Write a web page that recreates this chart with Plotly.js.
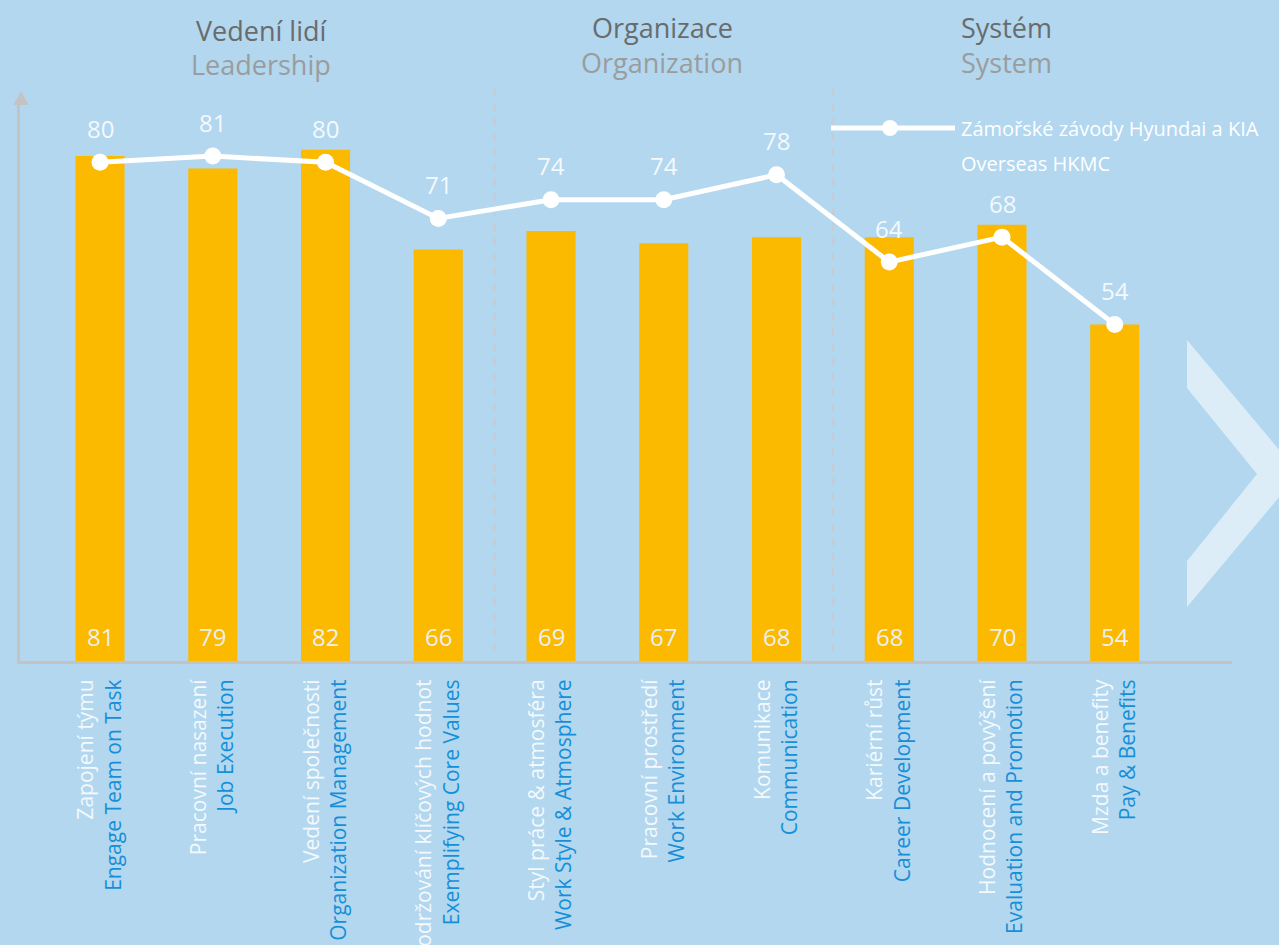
<!DOCTYPE html>
<html>
<head>
<meta charset="utf-8">
<script src="https://cdn.plot.ly/plotly-3.0.1.min.js"></script>
<style>
  html, body { margin: 0; padding: 0; background: #b2d7ef; }
  #chart { width: 1279px; height: 945px; }
</style>
</head>
<body>
<div id="chart"></div>
<script>
// ---- data ----
const czechLabels = ["Zapojení týmu", "Pracovní nasazení", "Vedení společnosti", "Dodržování klíčových hodnot",
  "Styl práce &amp; atmosféra", "Pracovní prostředí", "Komunikace", "Kariérní růst",
  "Hodnocení a povýšení", "Mzda a benefity"];
const englishLabels = ["Engage Team on Task", "Job Execution", "Organization Management", "Exemplifying Core Values",
  "Work Style &amp; Atmosphere", "Work Environment", "Communication", "Career Development",
  "Evaluation and Promotion", "Pay &amp; Benefits"];
const plantValues = [81, 79, 82, 66, 69, 67, 68, 68, 70, 54];
const overseasValues = [80, 81, 80, 71, 74, 74, 78, 64, 68, 54];
const groupTitlesCz = ["Vedení lidí", "Organizace", "Systém"];
const groupTitlesEn = ["Leadership", "Organization", "System"];
const legendLines = ["Zámořské závody Hyundai a KIA", "Overseas HKMC"];

// ---- layout geometry (pixels) ----
const W = 1279, H = 945;
const L = 20, R = 1232, T = 100, B = 661;
const PW = R - L, PH = B - T;
const px = p => (p - L) / PW;
const py = p => (B - p) / PH;

const WHITE_TXT = "#f4f9fd";
const BLUE_TXT = "#168fd8";
const FONT = "Open Sans, Noto Sans, sans-serif";

const cats = czechLabels.map((c, i) =>
  `<span style="color:${WHITE_TXT}">${c}</span><br><span style="color:${BLUE_TXT}">${englishLabels[i]}</span>`);

const bars = {
  type: "bar",
  x: cats,
  y: plantValues,
  width: 0.435,
  marker: { color: "#fbb900", line: { width: 0 } },
  hoverinfo: "skip",
  showlegend: false
};
const line = {
  type: "scatter",
  mode: "lines+markers",
  x: cats,
  y: overseasValues,
  line: { color: "#ffffff", width: 5 },
  marker: { color: "#ffffff", size: 17 },
  hoverinfo: "skip",
  showlegend: false
};

const annotations = [];
cats.forEach((c, i) => {
  annotations.push({
    x: c, y: overseasValues[i], xref: "x", yref: "y",
    text: String(overseasValues[i]), showarrow: false,
    yanchor: "middle", yshift: 34,
    font: { family: FONT, size: 24, color: WHITE_TXT }
  });
  annotations.push({
    x: c, y: 0, xref: "x", yref: "y",
    text: String(plantValues[i]), showarrow: false,
    yanchor: "middle", yshift: 25,
    font: { family: FONT, size: 24, color: "#eef0ee" }
  });
});

const groupCenters = [261, 662, 1007];
const czY = [30, 27, 27];
const enY = [65, 62, 62];
groupTitlesCz.forEach((t, i) => {
  annotations.push({
    x: px(groupCenters[i]), y: py(czY[i]), xref: "paper", yref: "paper",
    text: t, showarrow: false, xanchor: "center", yanchor: "middle", borderpad: 0,
    font: { family: FONT, size: 27, color: "#696b6d" }
  });
  annotations.push({
    x: px(groupCenters[i]), y: py(enY[i]), xref: "paper", yref: "paper",
    text: groupTitlesEn[i], showarrow: false, xanchor: "center", yanchor: "middle", borderpad: 0,
    font: { family: FONT, size: 27, color: "#9a9c9e" }
  });
});

legendLines.forEach((t, i) => {
  annotations.push({
    x: px(959), y: py(128 + i * 35), xref: "paper", yref: "paper",
    text: t, showarrow: false, xanchor: "left", yanchor: "middle",
    font: { family: FONT, size: 20, color: "#ffffff" }
  });
});

const chevron = [[1187, 340], [1299, 473.5], [1187, 607], [1187, 561], [1257, 474], [1187, 388]];
const chevPath = "M " + chevron.map(p => `${px(p[0])},${py(p[1])}`).join(" L ") + " Z";

const shapes = [
  { type: "path", xref: "paper", yref: "paper", path: chevPath,
    fillcolor: "rgba(255,255,255,0.55)", line: { width: 0 }, layer: "below" },
  // separators
  { type: "line", xref: "x", yref: "paper", x0: 3.5, x1: 3.5, y0: py(651), y1: py(89),
    line: { color: "#c6ccd2", width: 2, dash: "8px,7px" }, layer: "below" },
  { type: "line", xref: "x", yref: "paper", x0: 6.5, x1: 6.5, y0: py(651), y1: py(89),
    line: { color: "#c6ccd2", width: 2, dash: "8px,7px" }, layer: "below" },
  // y axis arrow head
  { type: "path", xref: "paper", yref: "paper",
    path: `M ${px(21)},${py(91)} L ${px(13.5)},${py(105)} L ${px(28.5)},${py(105)} Z`,
    fillcolor: "#c3c3c3", line: { width: 0 } },
  // legend symbol
  { type: "line", xref: "paper", yref: "paper", x0: px(831), x1: px(955), y0: py(128), y1: py(128),
    line: { color: "#ffffff", width: 5 } },
  { type: "circle", xref: "paper", yref: "paper", x0: px(882), x1: px(898), y0: py(136), y1: py(120),
    fillcolor: "#ffffff", line: { width: 0 } }
];

const layout = {
  width: W, height: H,
  margin: { l: L, r: W - R, t: T, b: H - B, pad: 0 },
  paper_bgcolor: "#b2d7ef",
  plot_bgcolor: "#b2d7ef",
  font: { family: FONT },
  showlegend: false,
  xaxis: {
    type: "category",
    range: [-0.71, 10.04],
    showgrid: false, zeroline: false,
    showline: true, linecolor: "#c3c3c3", linewidth: 3,
    ticks: "", tickangle: -90,
    ticklabelstandoff: 7,
    tickfont: { family: FONT, size: 21, color: WHITE_TXT },
    fixedrange: true
  },
  yaxis: {
    range: [0, 90],
    showgrid: false, zeroline: false,
    showline: true, linecolor: "#c3c3c3", linewidth: 3,
    showticklabels: false, ticks: "",
    fixedrange: true
  },
  annotations: annotations,
  shapes: shapes
};

Plotly.newPlot("chart", [bars, line], layout, { displayModeBar: false, staticPlot: true });
</script>
</body>
</html>
